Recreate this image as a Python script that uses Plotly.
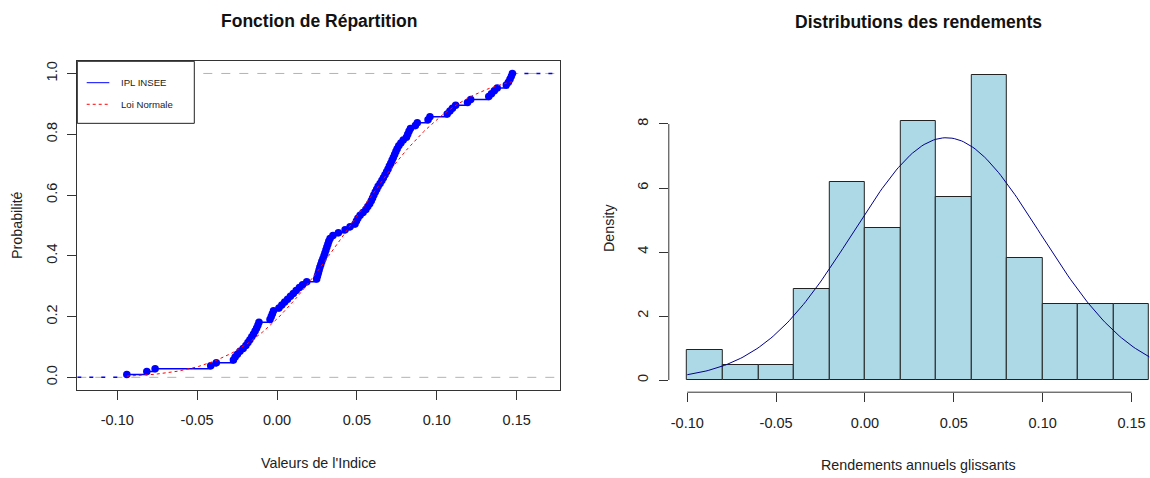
import math
import numpy as np
import plotly.graph_objects as go

# rendements annuels glissants (tries)
rendements = [
    -0.0940, -0.0815, -0.0763, -0.0415,
    -0.0380, -0.0273, -0.0262, -0.0248, -0.0232, -0.0212,
    -0.0195, -0.0182, -0.0170, -0.0158, -0.0147, -0.0137, -0.0128,
    -0.0120, -0.0113, -0.0044, -0.0036, -0.0029, -0.0022,
    0.0012, 0.0030, 0.0048, 0.0066, 0.0084, 0.0102, 0.0120, 0.0140, 0.0160, 0.0186,
    0.0248, 0.0253, 0.0258, 0.0263, 0.0268, 0.0274, 0.0280, 0.0287, 0.0294,
    0.0300, 0.0306, 0.0312, 0.0318, 0.0324, 0.0332, 0.0350, 0.0384,
    0.0426, 0.0457, 0.0488, 0.0497, 0.0506, 0.0520, 0.0538, 0.0556, 0.0568,
    0.0580, 0.0590, 0.0598,
    0.0606, 0.0615, 0.0624, 0.0633, 0.0645, 0.0656, 0.0666, 0.0676, 0.0686,
    0.0695, 0.0703, 0.0712, 0.0720, 0.0728, 0.0736, 0.0744, 0.0752, 0.0762,
    0.0775, 0.0790,
    0.0810, 0.0818, 0.0826, 0.0835, 0.0866, 0.0878, 0.0945, 0.0957,
    0.1065, 0.1082, 0.1098, 0.1118, 0.1192,
    0.1212, 0.1325, 0.1342, 0.1360, 0.1378,
    0.1435, 0.1448, 0.1458, 0.1466, 0.1473,
]

bin_edges = [-0.10, -0.08, -0.06, -0.04, -0.02, 0.00, 0.02, 0.04,
             0.06, 0.08, 0.10, 0.12, 0.14, 0.16]

# parametres de la loi normale ajustee
moyenne = 0.0458
ecart_type = 0.0527

x_ticks = [-0.10, -0.05, 0.00, 0.05, 0.10, 0.15]
x_ticktext = ["-0.10", "-0.05", "0.00", "0.05", "0.10", "0.15"]
prob_ticks = [0.0, 0.2, 0.4, 0.6, 0.8, 1.0]
dens_ticks = [0, 2, 4, 6, 8]

FONT = "Liberation Sans, Arial, sans-serif"
W, H = 1150, 478

n = len(rendements)
x_sorted = sorted(rendements)
ecdf = [(i + 1) / n for i in range(n)]

xs_cdf = np.linspace(min(x_sorted), max(x_sorted), 200)
cdf = [0.5 * (1 + math.erf((v - moyenne) / (ecart_type * math.sqrt(2)))) for v in xs_cdf]

counts, _ = np.histogram(rendements, bins=bin_edges)
width = bin_edges[1] - bin_edges[0]
density = counts / (n * width)
centers = [(bin_edges[i] + bin_edges[i + 1]) / 2 for i in range(len(counts))]

xs_pdf = np.linspace(bin_edges[0], bin_edges[-1], 200)
pdf = [math.exp(-0.5 * ((v - moyenne) / ecart_type) ** 2) / (ecart_type * math.sqrt(2 * math.pi))
       for v in xs_pdf]

left_range = [-0.1250, 0.1771]
right_range = [-0.1104, 0.1604]

fig = go.Figure()

# ---- fonction de repartition
fig.add_trace(go.Scatter(x=left_range, y=[0, 0], mode="lines", xaxis="x", yaxis="y",
                         line=dict(color="#b3b3b3", width=1, dash="dash"), showlegend=False))
fig.add_trace(go.Scatter(x=left_range, y=[1, 1], mode="lines", xaxis="x", yaxis="y",
                         line=dict(color="#b3b3b3", width=1, dash="dash"), showlegend=False))
fig.add_trace(go.Scatter(x=[left_range[0], x_sorted[0]], y=[0, 0], mode="lines",
                         line=dict(color="blue", width=1.5, dash="4px,8px"), showlegend=False))
fig.add_trace(go.Scatter(x=[x_sorted[-1], left_range[1]], y=[1, 1], mode="lines",
                         line=dict(color="blue", width=1.5, dash="4px,8px"), showlegend=False))
fig.add_trace(go.Scatter(x=x_sorted, y=ecdf, mode="lines+markers", line_shape="hv",
                         line=dict(color="blue", width=1.5),
                         marker=dict(color="blue", size=7.5), showlegend=False))
fig.add_trace(go.Scatter(x=xs_cdf, y=cdf, mode="lines",
                         line=dict(color="red", width=1, dash="dot"), showlegend=False))

# ---- histogramme
fig.add_trace(go.Bar(x=centers, y=density, width=width, xaxis="x2", yaxis="y2",
                     marker=dict(color="#add8e6", line=dict(color="#222222", width=1)),
                     showlegend=False))
fig.add_trace(go.Scatter(x=xs_pdf, y=pdf, mode="lines", xaxis="x2", yaxis="y2",
                         line=dict(color="darkblue", width=1), showlegend=False))

axis_font = dict(family=FONT, size=14.5, color="#222")
fig.update_layout(
    width=W, height=H,
    margin=dict(l=0, r=0, t=0, b=0),
    paper_bgcolor="white", plot_bgcolor="white",
    bargap=0,
    xaxis=dict(domain=[77.3 / W, 560 / W], range=left_range, tickvals=x_ticks,
               ticktext=x_ticktext, showgrid=False, zeroline=False,
               showline=True, mirror=True, linecolor="#333", linewidth=1,
               ticks="outside", ticklen=9, tickcolor="#333", tickfont=axis_font,
               ticklabelstandoff=8),
    yaxis=dict(domain=[(H - 389.5) / H, (H - 61.3) / H], range=[-0.04, 1.04],
               tickvals=prob_ticks, tickformat=".1f", tickangle=-90,
               showgrid=False, zeroline=False,
               showline=True, mirror=True, linecolor="#333", linewidth=1,
               ticks="outside", ticklen=9, tickcolor="#333", tickfont=axis_font,
               ticklabelstandoff=5),
    xaxis2=dict(domain=[668.8 / W, 1.0], range=right_range, tickvals=x_ticks,
                ticktext=x_ticktext, showgrid=False, zeroline=False, showline=False,
                ticks="outside", ticklen=9, tickcolor="#333", tickfont=axis_font,
                anchor="y2", ticklabelstandoff=8),
    yaxis2=dict(domain=[(H - 392.2) / H, (H - 63) / H], range=[-0.381, 9.906],
                tickvals=dens_ticks, tickangle=-90, showgrid=False, zeroline=False,
                showline=False, ticks="outside", ticklen=9, tickcolor="#333",
                tickfont=axis_font, anchor="x2", ticklabelstandoff=5),
)

# axes style R (ligne de la premiere a la derniere graduation)
fig.add_shape(type="line", xref="x2", yref="y2 domain", x0=x_ticks[0], x1=x_ticks[-1],
              y0=0, y1=0, line=dict(color="#333", width=1))
fig.add_shape(type="line", xref="x2 domain", yref="y2", x0=0, x1=0,
              y0=dens_ticks[0], y1=dens_ticks[-1], line=dict(color="#333", width=1))

# legende
fig.add_shape(type="rect", xref="x domain", yref="y domain", x0=0, x1=0.2424, y0=0.811, y1=1,
              line=dict(color="#222", width=1), fillcolor="white", layer="above")
fig.add_shape(type="line", xref="x domain", yref="y domain", x0=0.0195, x1=0.0663,
              y0=0.9348, y1=0.9348, line=dict(color="blue", width=1), layer="above")
fig.add_shape(type="line", xref="x domain", yref="y domain", x0=0.0195, x1=0.0663,
              y0=0.869, y1=0.869, line=dict(color="red", width=1, dash="dot"), layer="above")
leg_font = dict(family=FONT, size=9.6, color="#222")
fig.add_annotation(xref="x domain", yref="y domain", x=0.087, y=0.9348, text="IPL INSEE",
                   showarrow=False, xanchor="left", yanchor="middle", font=leg_font)
fig.add_annotation(xref="x domain", yref="y domain", x=0.087, y=0.869, text="Loi Normale",
                   showarrow=False, xanchor="left", yanchor="middle", font=leg_font)

# titres
title_font = dict(family=FONT, size=17.5, color="#111")
lab_font = dict(family=FONT, size=14.3, color="#222")
fig.add_annotation(xref="paper", yref="paper", x=318.7 / W, y=(H - 21) / H,
                   text="<b>Fonction de Répartition</b>", showarrow=False,
                   xanchor="center", yanchor="middle", font=title_font)
fig.add_annotation(xref="paper", yref="paper", x=918 / W, y=(H - 22) / H,
                   text="<b>Distributions des rendements</b>", showarrow=False,
                   xanchor="center", yanchor="middle", font=title_font)
fig.add_annotation(xref="paper", yref="paper", x=318.7 / W, y=(H - 463) / H,
                   text="Valeurs de l'Indice", showarrow=False,
                   xanchor="center", yanchor="middle", font=lab_font)
fig.add_annotation(xref="paper", yref="paper", x=918 / W, y=(H - 465) / H,
                   text="Rendements annuels glissants", showarrow=False,
                   xanchor="center", yanchor="middle", font=lab_font)
fig.add_annotation(xref="paper", yref="paper", x=17 / W, y=(H - 225) / H,
                   text="Probabilité", textangle=-90, showarrow=False,
                   xanchor="center", yanchor="middle", font=lab_font)
fig.add_annotation(xref="paper", yref="paper", x=609 / W, y=(H - 228) / H,
                   text="Density", textangle=-90, showarrow=False,
                   xanchor="center", yanchor="middle", font=lab_font)

fig.write_html("out.html", config={"displayModeBar": False},
               post_script="document.body.style.margin='0';")
